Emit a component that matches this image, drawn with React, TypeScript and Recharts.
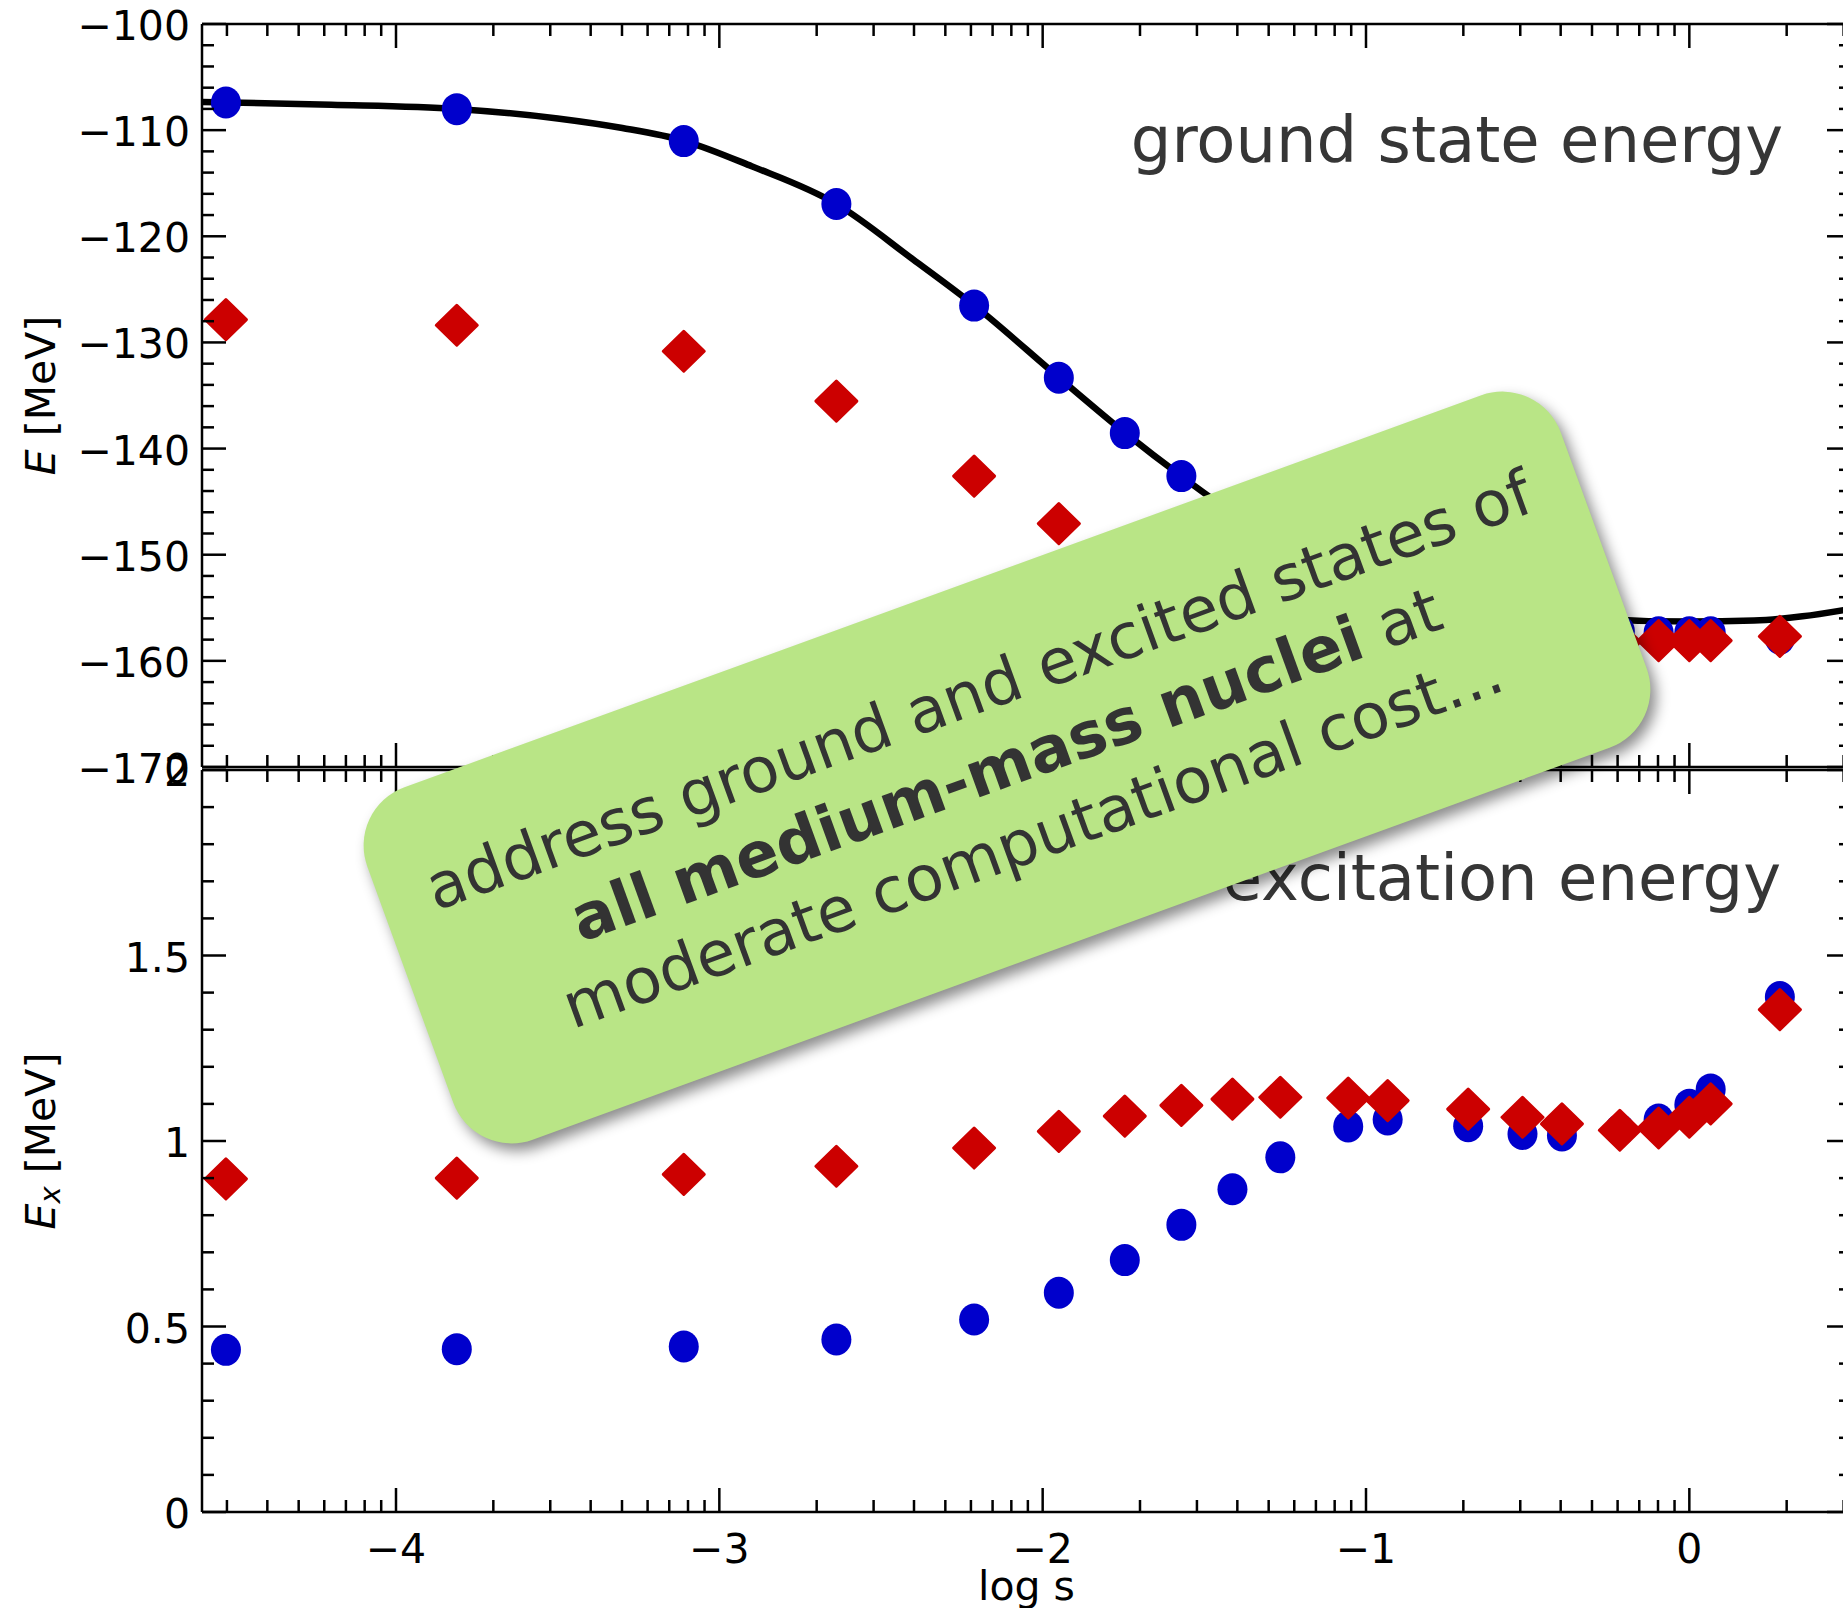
import { ComposedChart, Line, Scatter, XAxis, YAxis } from "recharts";

// log10 of the flow parameter s, shared by both panels
const logS = [
  -4.526, -3.812, -3.11, -2.638, -2.212, -1.95, -1.746, -1.571, -1.413, -1.265,
  -1.055, -0.933, -0.684, -0.516, -0.394, -0.215, -0.095, 0.0, 0.066, 0.28,
];

// ground state energy [MeV]
const groundBlue = [
  -107.4, -108.02, -111.03, -116.96, -126.53, -133.33, -138.54, -142.59, -146.2, -148.8,
  -151.8, -153.2, -155.3, -156.2, -156.7, -157.2, -157.3, -157.3, -157.3, -157.9,
];
const groundRed = [
  -127.85, -128.38, -130.83, -135.53, -142.59, -147.07, -150.6, -153.2, -155.0, -156.2,
  -157.2, -157.6, -158.0, -158.1, -158.1, -158.2, -158.1, -158.1, -158.1, -157.7,
];

// solid reference curve in the upper panel
const curveLogS = [
  -4.6, -4.2, -3.812, -3.5, -3.3, -3.11, -2.9, -2.638, -2.4, -2.212, -1.95, -1.746,
  -1.571, -1.413, -1.265, -1.055, -0.85, -0.6, -0.3, 0.0, 0.2, 0.35, 0.5,
];
const curveE = [
  -107.35, -107.6, -108.0, -108.9, -109.8, -111.0, -113.4, -116.96, -122.2, -126.5, -133.3,
  -138.5, -142.6, -146.0, -148.4, -151.2, -153.3, -155.0, -156.0, -156.3, -156.2, -155.8,
  -155.1,
];

// excitation energy [MeV]
const excBlue = [
  0.437, 0.439, 0.446, 0.465, 0.519, 0.591, 0.679, 0.774, 0.87, 0.956,
  1.039, 1.058, 1.04, 1.019, 1.015, 1.03, 1.058, 1.098, 1.139, 1.388,
];
const excRed = [
  0.898, 0.9, 0.91, 0.932, 0.981, 1.026, 1.067, 1.096, 1.113, 1.118,
  1.116, 1.109, 1.086, 1.064, 1.046, 1.029, 1.035, 1.064, 1.1, 1.354,
];

const xMajor = [-4, -3, -2, -1, 0];
const topMajor = [-170, -160, -150, -140, -130, -120, -110, -100];
const bottomMajor = [0, 0.5, 1, 1.5, 2];

const xDomain: [number, number] = [-4.6, 0.5];

// log-style minor ticks between the integer decades
const xMinor: number[] = [];
for (let n = -5; n <= 0; n++) {
  for (let k = 2; k <= 9; k++) {
    const v = n + Math.log10(k);
    if (v > xDomain[0] && v < xDomain[1]) xMinor.push(v);
  }
}
const topMinor: number[] = [];
for (let v = -168; v < -100; v += 2) if (v % 10 !== 0) topMinor.push(v);
const bottomMinor: number[] = [];
for (let i = 1; i < 20; i++) if (i % 5 !== 0) bottomMinor.push(i / 10);

const xTicks = [...xMajor, ...xMinor];
const topTicks = [...topMajor, ...topMinor];
const bottomTicks = [...bottomMajor, ...bottomMinor];

const rows = (xs: number[], ys: number[]) => xs.map((x, i) => ({ x, y: ys[i] }));

const FONT = "'DejaVu Sans', sans-serif";
const STROKE = 2.5;
const BLUE = "#0000cc";
const RED = "#cc0000";

const fmt = (v: number) => String(v).replace("-", "\u2212");

type Side = "bottom" | "top" | "left" | "right";

const makeTick = (side: Side, majors: number[], labels: boolean) => (props: any) => {
  const { x, y, payload } = props;
  const v = payload.value;
  const major = majors.some((m) => Math.abs(m - v) < 1e-9);
  const len = major ? 24 : 12;
  let x2 = x;
  let y2 = y;
  if (side === "bottom") y2 = y - len;
  if (side === "top") y2 = y + len;
  if (side === "left") x2 = x + len;
  if (side === "right") x2 = x - len;
  let label = null;
  if (labels && major) {
    if (side === "bottom") {
      label = (
        <text x={x} y={y + 51} textAnchor="middle" fontFamily={FONT} fontSize={41} fill="#000">
          {fmt(v)}
        </text>
      );
    } else if (side === "left") {
      label = (
        <text x={x - 12} y={y + 16} textAnchor="end" fontFamily={FONT} fontSize={41} fill="#000">
          {fmt(v)}
        </text>
      );
    }
  }
  return (
    <g>
      <line x1={x} y1={y} x2={x2} y2={y2} stroke="#000" strokeWidth={STROKE} />
      {label}
    </g>
  );
};

const yTitle = (sub: boolean) => (props: any) => {
  const vb = props.viewBox;
  const cy = vb.y + vb.height / 2;
  return (
    <text
      x={41}
      y={cy}
      transform={`rotate(-90, 41, ${cy})`}
      textAnchor="middle"
      dominantBaseline="central"
      fontFamily={FONT}
      fontSize={41}
      fill="#000"
    >
      <tspan fontStyle="italic">E</tspan>
      {sub && (
        <tspan fontStyle="italic" fontSize={29} dy={9}>
          x
        </tspan>
      )}
      <tspan dy={sub ? -9 : 0}>{"\u00a0[MeV]"}</tspan>
    </text>
  );
};

const xTitle = (props: any) => {
  const vb = props.viewBox;
  return (
    <text x={vb.x + vb.width / 2} y={vb.y + 88} textAnchor="middle" fontFamily={FONT} fontSize={41} fill="#000">
      log s
    </text>
  );
};

const Dot = (props: any) => <ellipse cx={props.cx} cy={props.cy} rx={15} ry={16} fill={BLUE} />;

const Diamond = (props: any) => {
  const { cx, cy } = props;
  const w = 20.5;
  const h = 20;
  return (
    <polygon
      points={`${cx},${cy - h} ${cx + w},${cy} ${cx},${cy + h} ${cx - w},${cy}`}
      fill={RED}
      stroke={RED}
      strokeWidth={3}
      strokeLinejoin="round"
    />
  );
};

const axisLine = { stroke: "#000", strokeWidth: STROKE };

export default function App() {
  const W = 1852;
  const xAxes = (labels: boolean) => [
    <XAxis
      key="b"
      xAxisId="b"
      dataKey="x"
      type="number"
      domain={xDomain}
      allowDataOverflow
      ticks={xTicks}
      interval={0}
      height={1}
      tickSize={0}
      tickMargin={0}
      tickLine={false}
      axisLine={axisLine}
      tick={makeTick("bottom", xMajor, labels)}
      label={labels ? xTitle : undefined}
    />,
    <XAxis
      key="t"
      xAxisId="t"
      orientation="top"
      dataKey="x"
      type="number"
      domain={xDomain}
      allowDataOverflow
      ticks={xTicks}
      interval={0}
      height={1}
      tickSize={0}
      tickMargin={0}
      tickLine={false}
      axisLine={axisLine}
      tick={makeTick("top", xMajor, false)}
    />,
  ];
  const yAxes = (domain: [number, number], ticks: number[], majors: number[], sub: boolean) => [
    <YAxis
      key="l"
      yAxisId="l"
      dataKey="y"
      type="number"
      domain={domain}
      allowDataOverflow
      ticks={ticks}
      interval={0}
      width={202}
      tickSize={0}
      tickMargin={0}
      tickLine={false}
      axisLine={axisLine}
      tick={makeTick("left", majors, true)}
      label={yTitle(sub)}
    />,
    <YAxis
      key="r"
      yAxisId="r"
      orientation="right"
      dataKey="y"
      type="number"
      domain={domain}
      allowDataOverflow
      ticks={ticks}
      interval={0}
      width={1}
      tickSize={0}
      tickMargin={0}
      tickLine={false}
      axisLine={axisLine}
      tick={makeTick("right", majors, false)}
    />,
  ];

  return (
    <div style={{ position: "absolute", left: 0, top: 0, width: 1843, height: 1608, overflow: "hidden", background: "#fff" }}>
      <div style={{ position: "absolute", left: 0, top: 0 }}>
        <ComposedChart width={W} height={800} margin={{ top: 23, right: 0, bottom: 32, left: 0 }}>
          {xAxes(false)}
          {yAxes([-170, -100], topTicks, topMajor, false)}
          <Line
            xAxisId="b"
            yAxisId="l"
            data={rows(curveLogS, curveE)}
            dataKey="y"
            type="monotone"
            stroke="#000"
            strokeWidth={6.5}
            dot={false}
            activeDot={false}
            isAnimationActive={false}
          />
          <Scatter xAxisId="b" yAxisId="l" data={rows(logS, groundBlue)} shape={Dot} isAnimationActive={false} />
          <Scatter xAxisId="b" yAxisId="l" data={rows(logS, groundRed)} shape={Diamond} isAnimationActive={false} />
        </ComposedChart>
      </div>
      <div style={{ position: "absolute", left: 0, top: 740 }}>
        <ComposedChart width={W} height={868} margin={{ top: 29, right: 0, bottom: 95, left: 0 }}>
          {xAxes(true)}
          {yAxes([0, 2], bottomTicks, bottomMajor, true)}
          <Scatter xAxisId="b" yAxisId="l" data={rows(logS, excBlue)} shape={Dot} isAnimationActive={false} />
          <Scatter xAxisId="b" yAxisId="l" data={rows(logS, excRed)} shape={Diamond} isAnimationActive={false} />
        </ComposedChart>
      </div>
      <svg style={{ position: "absolute", left: 0, top: 0 }} width={1843} height={1608}>
        <text x={1783} y={162} textAnchor="end" fontFamily={FONT} fontSize={64} fill="#363636">
          ground state energy
        </text>
        <text x={1781} y={900} textAnchor="end" fontFamily={FONT} fontSize={64} fill="#363636">
          excitation energy
        </text>
      </svg>
      <div
        style={{
          position: "absolute",
          left: 372,
          top: 579.5,
          width: 1270,
          height: 375,
          borderRadius: 62,
          background: "#b9e586",
          boxShadow: "3px 9px 14px rgba(0,0,0,0.45)",
          transform: "rotate(-20deg)",
          display: "flex",
          alignItems: "center",
          justifyContent: "center",
          textAlign: "center",
          fontFamily: FONT,
          fontSize: 63,
          lineHeight: "79px",
          color: "#333",
        }}
      >
        <div style={{ marginTop: -6 }}>
          address ground and excited states of
          <br />
          <b>all medium-mass nuclei</b> at
          <br />
          moderate computational cost…
        </div>
      </div>
    </div>
  );
}
